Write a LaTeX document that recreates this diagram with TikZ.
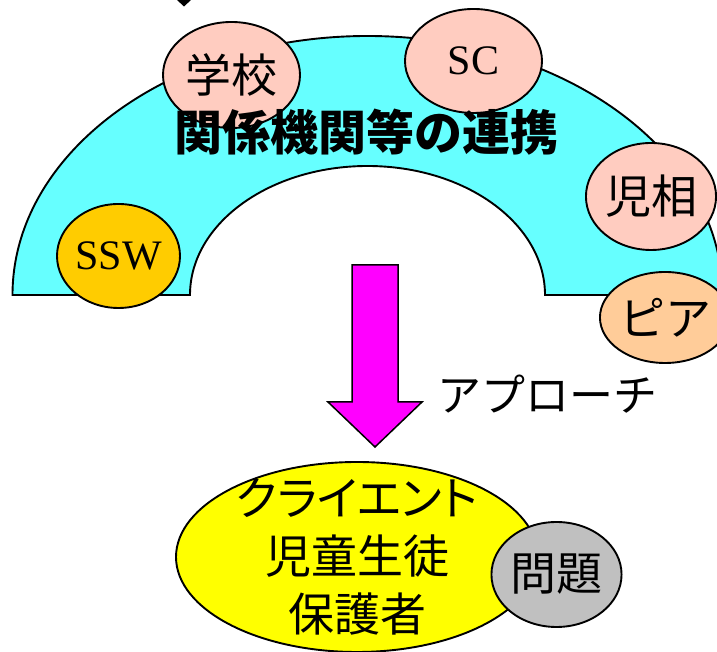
\documentclass[tikz,border=0pt]{standalone}
\usepackage{fontspec}
\setmainfont{Liberation Serif}
\newfontfamily\jp{Noto Sans CJK JP}
\newfontfamily\jpp{Noto Sans CJK JP}[RawFeature=+palt]
\usetikzlibrary{shapes.geometric}
\definecolor{archcyan}{HTML}{66FFFF}
\definecolor{pinkish}{HTML}{FFCCC0}
\definecolor{sswgold}{HTML}{FFCC00}
\definecolor{peach}{HTML}{FFCC99}
\definecolor{clientyellow}{HTML}{FFFF00}
\definecolor{issuegray}{HTML}{C0C0C0}
\definecolor{arrowmag}{HTML}{FF00FF}
\tikzset{
  outl/.style={draw=black, line width=1.9pt},
  bubble/.style={outl, ellipse, inner sep=0pt},
  jpbig/.style={font=\jp\fontsize{46}{58}\selectfont},
  latin/.style={font=\fontsize{42}{48}\selectfont},
}
\begin{document}
\begin{tikzpicture}[x=1pt,y=1pt]
\useasboundingbox (0,0) rectangle (717,652);
% partial mark at top edge
\fill[black] (177,652) -- (191,652) -- (184,645.5) -- cycle;
% arch
\draw[outl, fill=archcyan] (12.5,357) arc[start angle=180, end angle=0, x radius=355pt, y radius=259pt]
  -- (545,357) arc[start angle=0, end angle=180, x radius=177.5pt, y radius=129pt] -- cycle;
% bubbles on the arch
\node[bubble, fill=pinkish, minimum width=137pt, minimum height=106pt, jpbig] (school) at (231.5,577) {学校};
\node[bubble, fill=pinkish, minimum width=137pt, minimum height=104pt, latin] (sc) at (473.5,591) {SC};
\node[bubble, fill=pinkish, minimum width=128pt, minimum height=107pt, jpbig] (jiso) at (651,455.5) {児相};
\node[bubble, fill=peach, minimum width=110pt, minimum height=91pt, jpbig] (peer) at (665,334.5) {ピア};
\node[bubble, fill=sswgold, minimum width=123pt, minimum height=104pt, latin] (ssw) at (118.5,396) {SSW};
\node[font=\jp\bfseries\fontsize{48}{56}\selectfont, inner sep=0pt] (title) at (366.5,520) {関係機関等の連携};
% approach arrow
\draw[outl, line width=1.5pt, fill=arrowmag] (352,387) -- (398,387) -- (398,250) -- (422,250) -- (375,205) -- (328,250) -- (352,250) -- cycle;
\coordinate (arrowtip) at (375,205);
\node[font=\jp\fontsize{44}{56}\selectfont, inner sep=0pt] (approach) at (547.5,258) {アプローチ};
% client
\node[bubble, fill=clientyellow, minimum width=362pt, minimum height=190pt] (client) at (357,95) {};
\node[jpbig, align=center, inner sep=0pt] (clienttext) at (client.center) {{\jpp クライエント}\\児童生徒\\保護者};
\node[bubble, fill=issuegray, minimum width=123pt, minimum height=105pt, jpbig] (issue) at (556.5,77.5) {問題};
\end{tikzpicture}
\end{document}
